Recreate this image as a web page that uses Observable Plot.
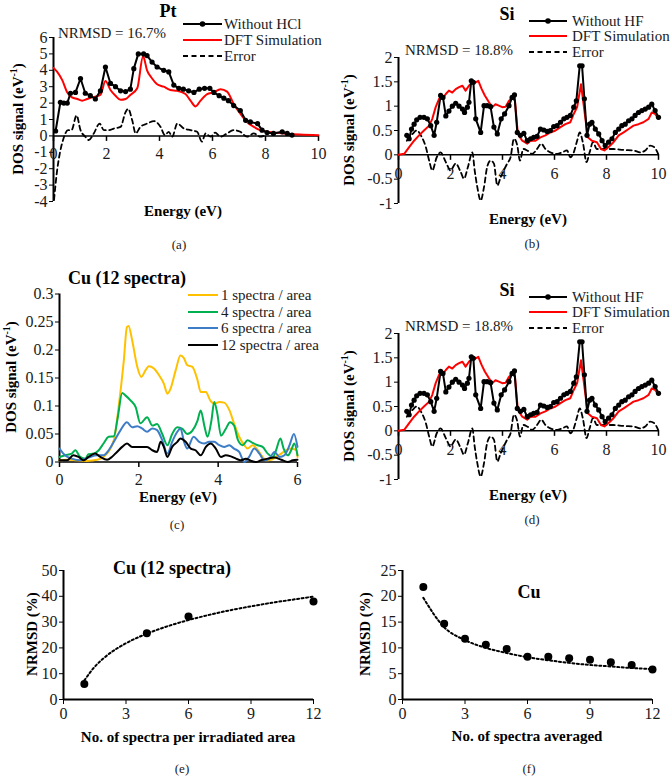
<!DOCTYPE html>
<html><head><meta charset="utf-8">
<script src="https://cdn.jsdelivr.net/npm/d3@7"></script>
<script src="https://cdn.jsdelivr.net/npm/@observablehq/plot@0.6"></script>
<style>
body{margin:0;background:#fff;}
#fig{position:relative;width:671px;height:776px;background:#fff;font-family:"Liberation Serif","Times New Roman",serif;color:#000;overflow:hidden;}
#fig svg{position:absolute;}
.t{position:absolute;white-space:nowrap;line-height:1;}
</style></head><body><div id="fig"></div>
<script>
// ---------------- DATA ----------------
// Panel (a) Pt : [energy eV, DOS]
const ptExp = [[0.08,0.3],[0.26,2.05],[0.39,2.0],[0.52,2.0],[0.64,2.6],[0.83,2.65],[1.02,3.5],[1.2,2.6],[1.39,2.45],[1.58,2.25],[1.77,2.75],[1.96,4.2],[2.15,3.2],[2.34,3.0],[2.53,2.75],[2.72,2.7],[2.9,2.85],[3.03,4.1],[3.2,5.0],[3.4,5.0],[3.53,4.9],[3.72,4.5],[3.91,4.2],[4.16,4.0],[4.35,3.9],[4.54,3.1],[4.73,2.9],[4.9,2.85],[5.1,2.75],[5.3,2.65],[5.5,2.85],[5.7,2.9],[5.9,2.9],[6.05,2.65],[6.25,2.45],[6.43,2.3],[6.6,2.15],[6.8,1.85],[7.05,1.55],[7.25,0.95],[7.43,0.85],[7.7,0.75],[7.87,0.35],[8.06,0.2],[8.3,0.15],[8.63,0.25],[8.82,0.15],[9.0,0.05]];
const ptDft = [[0,4.15],[0.14,3.9],[0.33,3.4],[0.52,2.65],[0.7,2.35],[0.9,2.25],[1.08,2.15],[1.27,2.25],[1.45,2.35],[1.77,2.5],[1.96,3.35],[2.15,2.8],[2.34,2.45],[2.53,2.2],[2.72,2.25],[2.9,2.5],[3.16,2.9],[3.38,4.85],[3.53,4.0],[3.72,3.5],[3.91,3.15],[4.16,3.0],[4.41,2.8],[4.67,2.75],[4.98,2.55],[5.17,2.15],[5.36,1.8],[5.55,2.15],[5.8,2.55],[6.05,2.65],[6.3,2.85],[6.55,2.7],[6.8,1.95],[7.05,1.35],[7.3,0.85],[7.56,0.55],[7.8,0.35],[8.06,0.25],[8.7,0.15],[9.3,0.08],[10,0.04]];
const ptErr = [[0.02,-3.9],[0.14,-2.06],[0.24,-1.05],[0.36,-0.25],[0.55,0.35],[0.68,0.35],[0.87,1.25],[1.02,0.35],[1.2,-0.05],[1.33,-0.25],[1.52,0.15],[1.74,0.75],[1.9,0.35],[2.09,0.35],[2.28,0.45],[2.53,0.55],[2.72,1.45],[2.82,1.65],[2.97,0.95],[3.1,0.15],[3.28,0.55],[3.53,0.75],[3.79,0.9],[4.04,0.55],[4.2,0.05],[4.35,0.25],[4.48,-0.05],[4.67,0.75],[4.92,0.45],[5.17,0.35],[5.42,0.25],[5.6,-0.35],[5.74,0.15],[5.93,-0.05],[6.1,0.2],[6.3,-0.05],[6.55,0.15],[6.8,0.35],[7.05,0.25],[7.3,-0.05],[7.56,0.15],[7.8,-0.05],[8.0,0.05]];

// Panels (b) and (d) Si
const siExp = [[0.32,0.4],[0.41,0.33],[0.5,0.53],[0.6,0.63],[0.7,0.72],[0.83,0.77],[0.98,0.77],[1.11,0.74],[1.24,0.6],[1.37,0.4],[1.47,0.67],[1.62,1.22],[1.71,1.18],[1.82,0.8],[1.94,0.9],[2.07,1.0],[2.2,1.06],[2.33,1.0],[2.46,0.94],[2.54,0.87],[2.65,0.98],[2.71,1.08],[2.8,1.52],[2.88,1.49],[2.97,0.74],[3.16,0.46],[3.29,1.01],[3.41,1.01],[3.54,0.99],[3.67,0.57],[3.8,0.43],[3.95,0.74],[4.08,0.84],[4.25,1.01],[4.37,1.18],[4.46,1.23],[4.57,0.46],[4.69,0.4],[4.82,0.44],[4.95,0.29],[5.08,0.33],[5.2,0.36],[5.33,0.38],[5.46,0.53],[5.59,0.51],[5.72,0.48],[5.84,0.5],[5.97,0.58],[6.1,0.6],[6.23,0.67],[6.36,0.74],[6.48,0.77],[6.61,0.81],[6.74,0.98],[6.84,1.11],[6.97,1.83],[7.06,1.83],[7.15,1.15],[7.25,0.4],[7.35,0.63],[7.44,0.67],[7.57,0.53],[7.7,0.43],[7.83,0.29],[7.95,0.19],[8.08,0.26],[8.21,0.33],[8.34,0.46],[8.47,0.53],[8.59,0.6],[8.72,0.63],[8.85,0.7],[8.98,0.74],[9.1,0.81],[9.23,0.87],[9.36,0.91],[9.49,0.94],[9.62,0.98],[9.74,1.04],[9.87,0.91],[10.0,0.77]];
const siDft = [[0,0],[0.22,0.02],[0.41,0.16],[0.6,0.29],[0.79,0.4],[0.98,0.5],[1.18,0.6],[1.3,0.74],[1.43,0.98],[1.56,1.15],[1.69,1.15],[1.82,1.25],[1.94,1.32],[2.07,1.28],[2.2,1.35],[2.33,1.39],[2.46,1.42],[2.58,1.32],[2.71,1.42],[2.84,1.49],[2.97,1.49],[3.07,1.52],[3.2,1.35],[3.32,1.22],[3.48,1.08],[3.61,0.98],[3.73,1.04],[3.86,1.01],[3.99,0.98],[4.12,0.99],[4.25,1.11],[4.37,1.18],[4.48,1.11],[4.59,0.43],[4.76,0.29],[4.95,0.23],[5.08,0.29],[5.27,0.29],[5.46,0.36],[5.65,0.4],[5.84,0.46],[6.04,0.5],[6.23,0.57],[6.42,0.63],[6.61,0.67],[6.74,0.84],[6.87,0.98],[7.02,1.45],[7.15,0.91],[7.28,0.36],[7.44,0.29],[7.63,0.26],[7.79,0.12],[7.92,0.09],[8.08,0.16],[8.27,0.26],[8.47,0.4],[8.66,0.46],[8.85,0.53],[9.04,0.6],[9.23,0.63],[9.42,0.67],[9.62,0.74],[9.74,0.87],[9.87,0.84],[10,0.74]];
const siErr = [[0.32,0.29],[0.54,0.43],[0.7,0.5],[0.86,0.4],[1.05,0.16],[1.18,-0.12],[1.3,-0.32],[1.47,-0.05],[1.62,0.05],[1.82,-0.15],[2.0,-0.32],[2.2,-0.18],[2.39,-0.35],[2.52,-0.49],[2.67,-0.25],[2.84,0.05],[2.93,-0.32],[3.03,-0.66],[3.16,-0.94],[3.29,-0.66],[3.41,-0.25],[3.54,-0.12],[3.67,-0.18],[3.8,-0.63],[3.93,-0.46],[4.05,-0.32],[4.18,-0.18],[4.31,-0.05],[4.44,0.33],[4.57,0.19],[4.67,-0.12],[4.8,0.12],[4.95,0.09],[5.14,0.02],[5.33,0.12],[5.49,0.23],[5.65,0.12],[5.84,0.05],[6.1,0.02],[6.29,0.05],[6.48,0.09],[6.61,-0.05],[6.74,0.05],[6.87,0.29],[6.97,0.46],[7.1,0.23],[7.23,-0.15],[7.35,0.05],[7.48,0.26],[7.63,0.12],[7.89,0.12],[8.27,0.12],[8.66,0.1],[9.04,0.09],[9.3,0.05],[9.49,0.09],[9.68,0.19],[9.83,0.16],[10,0]];

// Panel (c) Cu (12 spectra)
const cu1 = [[0,0.003],[0.19,0.004],[0.44,0.003],[0.69,0.002],[0.95,0.004],[1.11,0.009],[1.37,0.039],[1.49,0.098],[1.62,0.18],[1.7,0.241],[1.74,0.243],[1.83,0.218],[1.96,0.17],[2.06,0.152],[2.17,0.164],[2.25,0.171],[2.38,0.167],[2.51,0.155],[2.63,0.14],[2.72,0.122],[2.8,0.131],[2.93,0.164],[3.05,0.19],[3.14,0.185],[3.22,0.173],[3.35,0.17],[3.48,0.146],[3.56,0.125],[3.69,0.125],[3.8,0.11],[3.9,0.104],[4.03,0.107],[4.15,0.106],[4.28,0.093],[4.4,0.069],[4.53,0.045],[4.66,0.03],[4.74,0.024],[4.87,0.03],[5.0,0.021],[5.12,0.009],[5.2,0.003],[5.33,0.004],[5.46,0.009],[5.59,0.015],[5.71,0.021],[5.84,0.024],[5.97,0.021],[6.0,0.009]];
const cu4 = [[0,0.009],[0.14,0.012],[0.31,0.015],[0.4,0.021],[0.52,0.009],[0.65,0.006],[0.73,0.014],[0.86,0.015],[0.99,0.021],[1.11,0.033],[1.24,0.045],[1.37,0.046],[1.47,0.08],[1.58,0.123],[1.66,0.119],[1.79,0.11],[1.92,0.098],[2.04,0.069],[2.21,0.08],[2.34,0.065],[2.46,0.068],[2.59,0.05],[2.72,0.03],[2.84,0.05],[2.97,0.062],[3.1,0.059],[3.22,0.05],[3.35,0.056],[3.48,0.074],[3.56,0.092],[3.66,0.062],[3.73,0.045],[3.83,0.074],[3.9,0.107],[3.98,0.086],[4.07,0.047],[4.19,0.059],[4.3,0.071],[4.4,0.065],[4.5,0.039],[4.62,0.03],[4.74,0.039],[4.87,0.034],[5.0,0.03],[5.12,0.027],[5.25,0.015],[5.38,0.009],[5.46,0.021],[5.57,0.042],[5.65,0.024],[5.76,0.012],[5.84,0.021],[5.92,0.033],[6.0,0.012]];
const cu6 = [[0,0.024],[0.14,0.012],[0.31,0.006],[0.52,0.003],[0.73,0.008],[0.95,0.012],[1.11,0.012],[1.24,0.021],[1.37,0.036],[1.54,0.057],[1.7,0.071],[1.83,0.062],[1.96,0.064],[2.08,0.06],[2.21,0.054],[2.34,0.06],[2.46,0.057],[2.59,0.039],[2.72,0.015],[2.84,0.036],[2.97,0.054],[3.05,0.06],[3.14,0.036],[3.22,0.024],[3.38,0.045],[3.52,0.036],[3.65,0.033],[3.77,0.036],[3.9,0.036],[4.03,0.03],[4.15,0.027],[4.28,0.03],[4.4,0.024],[4.53,0.018],[4.66,0.0],[4.78,0.009],[4.91,0.024],[5.04,0.015],[5.16,0.003],[5.29,0.006],[5.42,0.018],[5.55,0.009],[5.67,0.012],[5.8,0.03],[5.91,0.05],[6.0,0.027]];
const cu12 = [[0,0.003],[0.19,0.003],[0.35,0.012],[0.48,0.009],[0.61,0.003],[0.73,0.009],[0.9,0.015],[1.03,0.009],[1.2,0.004],[1.32,0.009],[1.45,0.018],[1.58,0.027],[1.7,0.033],[1.83,0.027],[1.96,0.027],[2.08,0.027],[2.21,0.027],[2.34,0.021],[2.46,0.018],[2.55,0.036],[2.63,0.027],[2.72,0.009],[2.84,0.027],[2.97,0.036],[3.05,0.042],[3.18,0.036],[3.31,0.024],[3.43,0.021],[3.56,0.012],[3.69,0.027],[3.81,0.033],[3.94,0.024],[4.07,0.009],[4.19,0.012],[4.32,0.01],[4.45,0.006],[4.57,0.003],[4.7,0.006],[4.83,0.002],[4.95,0.0],[5.08,0.003],[5.25,0.006],[5.42,0.008],[5.59,0.004],[5.76,0.0],[5.88,0.003],[6.0,0.004]];
const cuSeries = ["1 spectra / area","4 spectra / area","6 spectra / area","12 spectra / area"];
const cuColors = ["#FFC000","#00B050","#3D7CC6","#000000"];

// Panel (e)
const perAreaN = [1,4,6,12];
const perAreaNRMSD = [6,25.7,32.2,38];
const perAreaTrendN = [1,1.5,2,3,4,5,6,7,8,9,10,11,12];
const perAreaTrend = [7.4,12.7,16.5,21.8,25.5,28.4,30.8,32.8,34.6,36.1,37.5,38.7,39.9];
// Panel (f)
const avgN = [1,2,3,4,5,6,7,8,9,10,11,12];
const avgNRMSD = [21.8,14.7,11.75,10.6,9.8,8.3,8.3,8.0,7.7,7.2,6.7,5.8];
const avgTrend = [19.7,14.0,11.5,10.0,9.0,8.2,7.6,7.1,6.7,6.4,6.1,5.9];

// tick labels
const dosXTicks = [0,2,4,6,8,10];
const ptYTicks = [-4,-3,-2,-1,0,1,2,3,4,5,6];
const siYTicks = [-1,-0.5,0,0.5,1,1.5,2];
const cuXTicks = [0,2,4,6];
const cuYTicks = [0,0.05,0.1,0.15,0.2,0.25,0.3];
const nXTicks = [0,3,6,9,12];
const eYTicks = [0,10,20,30,40,50];
const fYTicks = [0,5,10,15,20,25];

// ---------------- DRAWING ----------------
const fig = document.getElementById("fig");
const FONT = '"Liberation Serif","Times New Roman",serif';
const TXT = "#1a1a1a";
const TICKFS = 16;
const tickDown = {draw(ctx){ ctx.moveTo(0,0); ctx.lineTo(0,5); }};

function place(p, left, top){
  p.style.position = "absolute"; p.style.left = left+"px"; p.style.top = top+"px";
  fig.appendChild(p);
}
function baseStyle(){ return {fontFamily: FONT, fontSize: TICKFS+"px", background: "transparent", overflow: "visible", color: "#000"}; }

function dosPlot({left, top, width, height, m, xDomain, yDomain, xTicks, yTicks, labelDy, marks}){
  const p = Plot.plot({
    width, height, marginLeft: m[0], marginRight: m[1], marginTop: m[2], marginBottom: m[3],
    x: {domain: xDomain, axis: null},
    y: {domain: yDomain},
    style: baseStyle(),
    marks: [
      Plot.axisY({ticks: yTicks, tickSize: 4, tickPadding: 2, tickFormat: d => String(d), fontSize: TICKFS, fontFamily: FONT, fill: TXT, stroke: "#000"}),
      Plot.ruleX([xDomain[0]], {stroke: "#000", strokeWidth: 2}),
      Plot.ruleY([0], {stroke: "#000", strokeWidth: 1.5}),
      Plot.dot(xTicks, {x: d => d, y: 0, symbol: tickDown, stroke: "#000", fill: "none", strokeWidth: 1.5}),
      Plot.text(xTicks, {x: d => d, y: 0, text: d => String(d), dy: labelDy, fontSize: TICKFS, fontFamily: FONT, fill: TXT}),
      ...marks
    ]
  });
  place(p, left, top);
}

function txt(x, y, html, o = {}){
  const d = document.createElement("div");
  d.className = "t";
  d.innerHTML = html;
  d.style.left = x+"px"; d.style.top = y+"px";
  d.style.fontSize = (o.size || 15)+"px";
  d.style.color = o.color || TXT;
  if (o.bold) { d.style.fontWeight = "bold"; d.style.color = "#000"; }
  let tr = o.anchor === "start" ? "translate(0,-50%)" : "translate(-50%,-50%)";
  if (o.rotate) tr += ` rotate(${o.rotate}deg)`;
  d.style.transform = tr;
  fig.appendChild(d);
}
function legendLine(x1, x2, y, {stroke = "#000", dash = null, marker = false, w = 2} = {}){
  const ns = "http://www.w3.org/2000/svg";
  const s = document.createElementNS(ns, "svg");
  const W = x2 - x1 + 8;
  s.setAttribute("width", W); s.setAttribute("height", 10);
  s.style.left = (x1-4)+"px"; s.style.top = (y-5)+"px";
  const l = document.createElementNS(ns, "line");
  l.setAttribute("x1", 4); l.setAttribute("x2", W-4); l.setAttribute("y1", 5); l.setAttribute("y2", 5);
  l.setAttribute("stroke", stroke); l.setAttribute("stroke-width", w);
  if (dash) l.setAttribute("stroke-dasharray", dash);
  s.appendChild(l);
  if (marker){
    const c = document.createElementNS(ns, "circle");
    c.setAttribute("cx", W/2); c.setAttribute("cy", 5); c.setAttribute("r", 2.8); c.setAttribute("fill", stroke);
    s.appendChild(c);
  }
  fig.appendChild(s);
}

const DASH = "5,3.5";

// (a) Pt
dosPlot({left: 0, top: 0, width: 335, height: 240, m: [53, 17, 37, 39], xDomain: [0,10], yDomain: [-4,6],
  xTicks: dosXTicks, yTicks: ptYTicks, labelDy: 18,
  marks: [
    Plot.line(ptErr, {x: d => d[0], y: d => d[1], stroke: "#000", strokeWidth: 1.8, strokeDasharray: DASH, curve: "monotone-x"}),
    Plot.line(ptDft, {x: d => d[0], y: d => d[1], stroke: "#FF0000", strokeWidth: 2, curve: "monotone-x"}),
    Plot.line(ptExp, {x: d => d[0], y: d => d[1], stroke: "#000", strokeWidth: 2}),
    Plot.dot(ptExp, {x: d => d[0], y: d => d[1], r: 2.6, fill: "#000"})
  ]});
txt(168, 11, "Pt", {bold: true, size: 18});
txt(112, 33, "NRMSD = 16.7%");
legendLine(183, 222, 24, {marker: true});
legendLine(183, 222, 40, {stroke: "#FF0000"});
legendLine(183, 222, 56, {dash: DASH, w: 1.8});
txt(224, 24, "Without HCl", {anchor: "start"});
txt(224, 40, "DFT Simulation", {anchor: "start"});
txt(224, 56, "Error", {anchor: "start"});
txt(17, 119, "DOS signal (eV<sup style='font-size:10px'>-1</sup>)", {bold: true, rotate: -90});
txt(183, 211, "Energy (eV)", {bold: true});
txt(179, 244, "(a)", {size: 13});

// (b) and (d) Si
function siPanel(top, dy, letter){
  dosPlot({left: 335, top, width: 336, height: 240, m: [63, 13, 57, 37], xDomain: [0,10], yDomain: [-1,2],
    xTicks: dosXTicks, yTicks: siYTicks, labelDy: 19,
    marks: [
      Plot.line(siErr, {x: d => d[0], y: d => d[1], stroke: "#000", strokeWidth: 1.8, strokeDasharray: DASH, curve: "monotone-x"}),
      Plot.line(siDft, {x: d => d[0], y: d => d[1], stroke: "#FF0000", strokeWidth: 2}),
      Plot.line(siExp, {x: d => d[0], y: d => d[1], stroke: "#000", strokeWidth: 2}),
      Plot.dot(siExp, {x: d => d[0], y: d => d[1], r: 2.6, fill: "#000"})
    ]});
  txt(507, 14+dy, "Si", {bold: true, size: 18});
  txt(459, 50+dy, "NRMSD = 18.8%");
  legendLine(529, 567, 21+dy, {marker: true});
  legendLine(529, 567, 36+dy, {stroke: "#FF0000"});
  legendLine(529, 567, 52+dy, {dash: DASH, w: 1.8});
  txt(572, 21+dy, "Without HF", {anchor: "start"});
  txt(572, 36+dy, "DFT Simulation", {anchor: "start"});
  txt(572, 52+dy, "Error", {anchor: "start"});
  txt(348, 130+dy, "DOS signal (eV<sup style='font-size:10px'>-1</sup>)", {bold: true, rotate: -90});
  txt(528, 219+dy, "Energy (eV)", {bold: true});
  txt(532, 243+dy, letter, {size: 13});
}
siPanel(0, 0, "(b)");
siPanel(276, 276, "(d)");

// (c) Cu (12 spectra)
const cuData = [cu1, cu4, cu6, cu12];
dosPlot({left: 0, top: 260, width: 335, height: 240, m: [59, 38, 33.5, 38.5], xDomain: [0,6], yDomain: [0,0.3],
  xTicks: cuXTicks, yTicks: cuYTicks, labelDy: 18,
  marks: cuData.map((s, i) => Plot.line(s, {x: d => d[0], y: d => d[1], stroke: cuColors[i], strokeWidth: 2, curve: "monotone-x"}))
});
txt(127, 278, "Cu (12 spectra)", {bold: true, size: 18});
cuSeries.forEach((name, i) => {
  const y = [295, 312, 328, 345][i];
  legendLine(188, 218, y, {stroke: cuColors[i]});
  txt(221, y, name, {anchor: "start", size: 15});
});
txt(10, 377, "DOS signal (eV<sup style='font-size:10px'>-1</sup>)", {bold: true, rotate: -90});
txt(178, 497, "Energy (eV)", {bold: true});
txt(177, 524, "(c)", {size: 13});

// (e) and (f)
function nPanel({left, width, m, yDomain, yTicks, pts, ptsY, trendX, trendY}){
  const p = Plot.plot({
    width, height: 200, marginLeft: m[0], marginRight: m[1], marginTop: 30, marginBottom: 41,
    x: {domain: [0,12]}, y: {domain: yDomain},
    style: baseStyle(),
    marks: [
      Plot.axisY({ticks: yTicks, tickSize: 4, tickPadding: 2, tickFormat: d => String(d), fontSize: TICKFS, fontFamily: FONT, fill: TXT, stroke: "#000"}),
      Plot.axisX({ticks: nXTicks, tickSize: 5, tickPadding: 3, tickFormat: d => String(d), fontSize: TICKFS, fontFamily: FONT, fill: TXT, stroke: "#000"}),
      Plot.ruleX([0], {stroke: "#000", strokeWidth: 2}),
      Plot.ruleY([0], {stroke: "#000", strokeWidth: 2}),
      Plot.line(trendX.map((x, i) => [x, trendY[i]]), {x: d => d[0], y: d => d[1], stroke: "#000", strokeWidth: 2, strokeDasharray: "2,2.5", curve: "monotone-x"}),
      Plot.dot(pts.map((x, i) => [x, ptsY[i]]), {x: d => d[0], y: d => d[1], r: 4, fill: "#000"})
    ]
  });
  place(p, left, 540);
}
nPanel({left: 0, width: 335, m: [63, 22], yDomain: [0,50], yTicks: eYTicks, pts: perAreaN, ptsY: perAreaNRMSD, trendX: perAreaTrendN, trendY: perAreaTrend});
txt(172, 568, "Cu (12 spectra)", {bold: true, size: 18});
txt(32, 634, "NRMSD (%)", {bold: true, rotate: -90});
txt(188, 737, "No. of spectra per irradiated area", {bold: true});
txt(182, 768, "(e)", {size: 13});

nPanel({left: 335, width: 336, m: [67, 19], yDomain: [0,25], yTicks: fYTicks, pts: avgN, ptsY: avgNRMSD, trendX: avgN, trendY: avgTrend});
txt(529, 592, "Cu", {bold: true, size: 18});
txt(365, 634, "NRMSD (%)", {bold: true, rotate: -90});
txt(527, 736, "No. of spectra averaged", {bold: true});
txt(529, 768, "(f)", {size: 13});
</script></body></html>
